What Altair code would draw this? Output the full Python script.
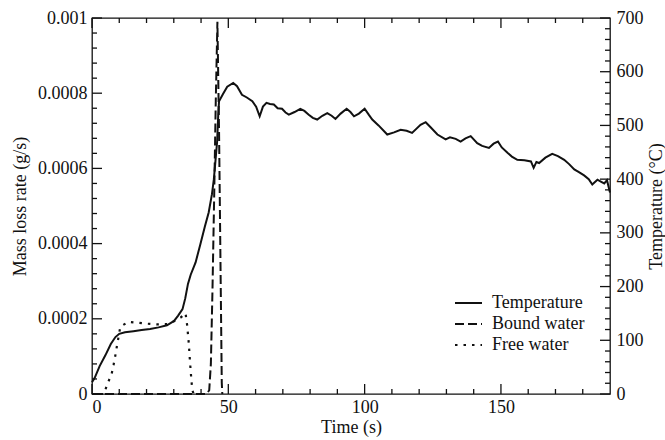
import altair as alt
import pandas as pd

# ---------------- data ----------------
time_temp = [0, 1, 2.8, 4.9, 6.9, 8.6, 10.0, 12.1, 15.2, 18.2, 21.3, 24.4, 27.5, 30.1, 31.6,
             33.2, 34.2, 35.2, 36.2, 38.0, 39.7, 41.4, 42.8, 44.0, 44.7, 45.3, 45.9, 46.3,
             46.6, 48.0, 49.6, 51.8, 53.2, 55.0, 56.8, 58.8, 60.2, 61.5, 62.7, 64.0, 65.3,
             66.7, 68.1, 69.7, 71.0, 72.2, 74.3, 76.4, 77.9, 79.5, 81.0, 82.6, 84.5, 86.3,
             87.9, 89.3, 91.2, 93.4, 94.8, 96.1, 97.9, 100.0, 101.5, 102.8, 105.1, 108.3,
             110.8, 113.2, 115.4, 117.4, 120.5, 122.4, 124.1, 126.7, 129.7, 131.3, 133.4,
             135.2, 137.0, 138.9, 141.3, 143.1, 145.6, 147.3, 148.9, 150.3, 152.4, 154.0,
             156.0, 158.6, 161.0, 162.0, 163.0, 164.0, 166.3, 168.8, 170.9, 173.2, 175.0,
             176.9, 178.6, 180.5, 182.2, 183.5, 185.4, 186.8, 187.9, 188.9, 189.7, 190.0]
temp_c = [22, 30, 52, 72, 93, 106, 112, 115, 117, 119, 121, 124, 128, 136, 146,
          158, 178, 205, 222, 245, 278, 312, 338, 372, 400, 435, 470, 520,
          545, 558, 572, 579, 573, 557, 552, 545, 535, 517, 535, 542, 540,
          539, 532, 531, 524, 520, 525, 531, 527, 520, 514, 511, 518, 523,
          518, 512, 522, 531, 525, 517, 522, 531, 520, 511, 500, 483,
          487, 492, 490, 486, 501, 506, 497, 483, 474, 478, 475,
          470, 476, 480, 467, 462, 458, 466, 470, 459, 449, 442,
          436, 435, 433, 421, 432, 430, 440, 447, 443, 436, 428,
          418, 413, 407, 400, 390, 399, 395, 392, 398, 381, 375]

time_free = [0, 4.4, 5.5, 6.3, 7.1, 7.9, 8.6, 9.2, 10.4, 13.4, 16.2, 20.3, 24.4, 27.5,
             30.6, 32.5, 34.3, 34.9, 35.5, 36.0, 36.5, 36.8, 37.3]
free_water = [0, 0, 0.000024, 0.000038, 0.00005, 0.000077, 0.000104, 0.00013, 0.000179,
              0.000192, 0.00019, 0.000187, 0.000185, 0.000186, 0.000195, 0.000203,
              0.000215, 0.000183, 0.000135, 0.00008, 0.000033, 0.00001, 0]

time_bound = [0, 42.0, 43.0, 43.6, 44.2, 44.8, 45.4, 46.0, 46.6, 47.2, 47.6, 47.8]
bound_water = [0, 0, 0.00001, 0.00008, 0.00028, 0.00052, 0.00078, 0.00099, 0.0007,
               0.0003, 0.00003, 0]

series_names = ["Temperature", "Bound water", "Free water"]

x_major = [0, 50, 100, 150]
x_minor = [10, 20, 30, 40, 60, 70, 80, 90, 110, 120, 130, 140, 160, 170, 180]
m_major = [0, 0.0002, 0.0004, 0.0006, 0.0008, 0.001]
m_minor = [0.00004, 0.00008, 0.00012, 0.00016, 0.00024, 0.00028, 0.00032, 0.00036,
           0.00044, 0.00048, 0.00052, 0.00056, 0.00064, 0.00068, 0.00072, 0.00076,
           0.00084, 0.00088, 0.00092, 0.00096]
t_major = [0, 100, 200, 300, 400, 500, 600, 700]
t_minor = [20, 40, 60, 80, 120, 140, 160, 180, 220, 240, 260, 280, 320, 340, 360, 380,
           420, 440, 460, 480, 520, 540, 560, 580, 620, 640, 660, 680]

# ---------------- layout constants ----------------
W, H = 518, 376
X_MAX, M_MAX, T_MAX = 190, 0.001, 700
FONT = "Liberation Serif"
INK = "#111111"
FS = 18
MAJ_PX, MIN_PX = 10, 5
DASHES = {"Temperature": [1, 0], "Bound water": [9, 4], "Free water": [2.5, 6]}

# ---------------- tables ----------------
free_df = pd.DataFrame({"t": time_free, "v": free_water})
bound_df = pd.DataFrame({"t": time_bound, "v": bound_water})
temp_df = pd.DataFrame({"t": time_temp, "v": temp_c})


def px_to_x(px):
    return px * X_MAX / W


def px_to_m(px):
    return px * M_MAX / H


def px_to_t(px):
    return px * T_MAX / H


# tick segments in data units (time, mass): bottom, top and left frame edges
mass_tick_rows = []
for vals, px in ((x_major, MAJ_PX), (x_minor, MIN_PX)):
    for v in vals:
        mass_tick_rows.append({"x1": v, "x2": v, "y1": 0, "y2": px_to_m(px)})
        mass_tick_rows.append({"x1": v, "x2": v, "y1": M_MAX, "y2": M_MAX - px_to_m(px)})
for vals, px in ((m_major, MAJ_PX), (m_minor, MIN_PX)):
    for v in vals:
        mass_tick_rows.append({"x1": 0, "x2": px_to_x(px), "y1": v, "y2": v})
mass_ticks_df = pd.DataFrame(mass_tick_rows)

# tick segments in data units (time, temperature): right frame edge
temp_tick_rows = []
for vals, px in ((t_major, MAJ_PX), (t_minor, MIN_PX)):
    for v in vals:
        temp_tick_rows.append({"x1": X_MAX, "x2": X_MAX - px_to_x(px), "y1": v, "y2": v})
temp_ticks_df = pd.DataFrame(temp_tick_rows)


def xs():
    return alt.Scale(domain=[0, X_MAX], nice=False)


def ms():
    return alt.Scale(domain=[0, M_MAX], nice=False)


def ts():
    return alt.Scale(domain=[0, T_MAX], nice=False)


def label_axis(orient, values, title, **kw):
    return alt.Axis(orient=orient, values=values, title=title, ticks=False,
                    domain=False, grid=False,
                    labelFont=FONT, labelFontSize=FS, labelColor=INK,
                    titleFont=FONT, titleFontSize=FS, titleColor=INK,
                    titleFontWeight="normal", **kw)


# free water: carries bottom and left labelled axes
free_line = alt.Chart(free_df).mark_line(
    color=INK, strokeWidth=2.2, strokeDash=DASHES["Free water"]).encode(
    x=alt.X("t:Q", scale=xs(),
            axis=label_axis("bottom", x_major, "Time (s)", labelPadding=4, titlePadding=2)),
    y=alt.Y("v:Q", scale=ms(),
            axis=label_axis("left", m_major, "Mass loss rate (g/s)", format="~g",
                            labelPadding=5, titlePadding=8)),
)

bound_line = alt.Chart(bound_df).mark_line(
    color=INK, strokeWidth=2, strokeDash=DASHES["Bound water"]).encode(
    x=alt.X("t:Q", scale=xs(), axis=None),
    y=alt.Y("v:Q", scale=ms(), axis=None),
)

# temperature: carries right labelled axis
temp_line = alt.Chart(temp_df).mark_line(color=INK, strokeWidth=2).encode(
    x=alt.X("t:Q", scale=xs(), axis=None),
    y=alt.Y("v:Q", scale=ts(),
            axis=label_axis("right", t_major, "Temperature (°C)", labelPadding=6,
                            titlePadding=4, titleAngle=270, titleBaseline="top")),
)

# inward tick marks as short segments through the scales
mass_ticks = alt.Chart(mass_ticks_df).mark_rule(color=INK, strokeWidth=1.3).encode(
    x=alt.X("x1:Q", scale=xs(), axis=None), x2="x2:Q",
    y=alt.Y("y1:Q", scale=ms(), axis=None), y2="y2:Q",
)
temp_ticks = alt.Chart(temp_ticks_df).mark_rule(color=INK, strokeWidth=1.3).encode(
    x=alt.X("x1:Q", scale=xs(), axis=None), x2="x2:Q",
    y=alt.Y("y1:Q", scale=ts(), axis=None), y2="y2:Q",
)

# legend (key lines + real text labels)
LEG_X0, LEG_X1, LEG_TX = 363, 390, 400
LEG_ROWS = [285, 306, 327]
legend_parts = []
for name, row in zip(series_names, LEG_ROWS):
    legend_parts.append(
        alt.Chart(pd.DataFrame({"name": [name]})).mark_rule(
            color=INK, strokeWidth=2, strokeDash=DASHES[name]).encode(
            x=alt.value(LEG_X0), x2=alt.value(LEG_X1), y=alt.value(row))
    )
    legend_parts.append(
        alt.Chart(pd.DataFrame({"name": [name]})).mark_text(
            align="left", baseline="middle", font=FONT, fontSize=FS, color=INK).encode(
            x=alt.value(LEG_TX), y=alt.value(row), text="name:N")
    )

chart = (
    alt.layer(free_line, bound_line, temp_line, mass_ticks, temp_ticks, *legend_parts)
    .resolve_scale(y="independent", x="independent")
    .resolve_axis(y="independent", x="independent")
    .properties(width=W, height=H, background="white",
                padding={"left": 92, "top": 18, "right": 55, "bottom": 46},
                autosize=alt.AutoSizeParams(type="none"))
    .configure_view(stroke=INK, strokeWidth=1.3)
)

chart.save("out.html", embed_options={"renderer": "svg", "actions": False})
